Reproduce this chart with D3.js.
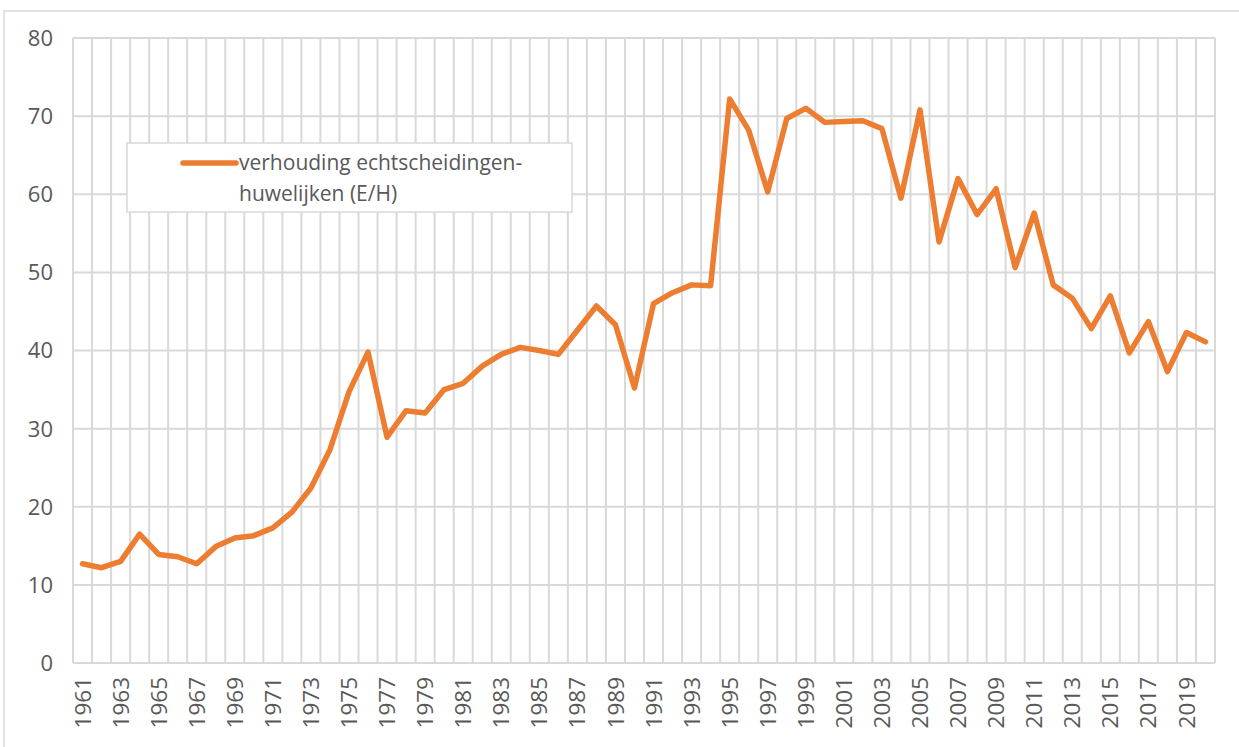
<!DOCTYPE html>
<html>
<head>
<meta charset="utf-8">
<script src="https://cdn.jsdelivr.net/npm/d3@7"></script>
<style>
  html, body { margin: 0; padding: 0; background: #ffffff; }
  svg { display: block; }
  text { font-family: "Open Sans", sans-serif; fill: #595959; }
</style>
</head>
<body>
<svg id="chart" width="1239" height="747"></svg>
<script>
const years = [1961,1962,1963,1964,1965,1966,1967,1968,1969,1970,
  1971,1972,1973,1974,1975,1976,1977,1978,1979,1980,
  1981,1982,1983,1984,1985,1986,1987,1988,1989,1990,
  1991,1992,1993,1994,1995,1996,1997,1998,1999,2000,
  2001,2002,2003,2004,2005,2006,2007,2008,2009,2010,
  2011,2012,2013,2014,2015,2016,2017,2018,2019,2020];

const ratioEH = [12.7,12.2,13.0,16.5,13.9,13.6,12.7,14.9,16.0,16.3,
  17.3,19.3,22.4,27.3,34.7,39.8,28.9,32.3,32.0,35.0,
  35.8,38.0,39.5,40.4,40.0,39.5,42.6,45.7,43.3,35.2,
  46.0,47.4,48.4,48.3,72.2,68.2,60.3,69.7,71.0,69.2,
  69.3,69.4,68.4,59.5,70.8,53.9,62.0,57.4,60.7,50.6,
  57.6,48.4,46.7,42.8,47.0,39.7,43.7,37.3,42.3,41.1];

const xTickLabels = [1961,1963,1965,1967,1969,1971,1973,1975,1977,1979,
  1981,1983,1985,1987,1989,1991,1993,1995,1997,1999,
  2001,2003,2005,2007,2009,2011,2013,2015,2017,2019];

const yTicks = [0,10,20,30,40,50,60,70,80];

const legendLines = ["verhouding echtscheidingen-", "huwelijken (E/H)"];

const svg = d3.select("#chart");
const plot = { left: 73, right: 1215, top: 38, bottom: 663 };
const gridColor = "#d9d9d9";
const lineColor = "#ED7D31";
const textColor = "#595959";

// outer chart border
svg.append("rect")
  .attr("x", 4).attr("y", 11)
  .attr("width", 1260).attr("height", 760)
  .attr("fill", "none").attr("stroke", gridColor).attr("stroke-width", 1.5);

const x = d3.scaleBand().domain(years).range([plot.left, plot.right]).paddingInner(0).paddingOuter(0);
const y = d3.scaleLinear().domain([0, 80]).range([plot.bottom, plot.top]);
const cx = d => x(d) + x.bandwidth() / 2;

// horizontal gridlines
svg.append("g").selectAll("line").data(yTicks).join("line")
  .attr("x1", plot.left).attr("x2", plot.right)
  .attr("y1", d => y(d)).attr("y2", d => y(d))
  .attr("stroke", gridColor).attr("stroke-width", 2);

// vertical gridlines at category boundaries
const bounds = years.map(d => x(d)).concat([x(years[years.length - 1]) + x.bandwidth()]);
svg.append("g").selectAll("line").data(bounds).join("line")
  .attr("x1", d => d).attr("x2", d => d)
  .attr("y1", plot.top).attr("y2", plot.bottom)
  .attr("stroke", gridColor).attr("stroke-width", 2);

// y axis labels
const yAxis = d3.axisLeft(y).tickValues(yTicks).tickSize(0).tickPadding(20);
const gy = svg.append("g").attr("transform", `translate(${plot.left},0)`).call(yAxis);
gy.select(".domain").remove();
gy.selectAll("text")
  .attr("font-size", 22)
  .attr("font-family", "'Open Sans', sans-serif")
  .attr("fill", textColor)
  .attr("dy", "0.34em");

// x axis labels (rotated)
const xAxis = d3.axisBottom(x).tickValues(xTickLabels).tickSize(0).tickPadding(0);
const gx = svg.append("g").attr("transform", `translate(0,${plot.bottom})`).call(xAxis);
gx.select(".domain").remove();
gx.selectAll("text")
  .attr("font-size", 22.5)
  .attr("font-family", "'Open Sans', sans-serif")
  .attr("fill", textColor)
  .attr("text-anchor", "end")
  .attr("transform", "rotate(-90)")
  .attr("x", -14)
  .attr("y", 0)
  .attr("dy", "0.36em");

// data line
const line = d3.line().x((d, i) => cx(years[i])).y(d => y(d));
svg.append("path")
  .datum(ratioEH)
  .attr("d", line)
  .attr("fill", "none")
  .attr("stroke", lineColor)
  .attr("stroke-width", 5.5)
  .attr("stroke-linejoin", "round")
  .attr("stroke-linecap", "round");

// legend
const lg = svg.append("g");
lg.append("rect")
  .attr("x", 127).attr("y", 143).attr("width", 445).attr("height", 69)
  .attr("fill", "#ffffff").attr("stroke", gridColor).attr("stroke-width", 1.5);
lg.append("line")
  .attr("x1", 183).attr("x2", 236).attr("y1", 163).attr("y2", 163)
  .attr("stroke", lineColor).attr("stroke-width", 5.5).attr("stroke-linecap", "round");
lg.selectAll("text.leg").data(legendLines).join("text")
  .attr("class", "leg")
  .attr("x", 239)
  .attr("y", (d, i) => 170 + i * 31)
  .attr("font-size", 21)
  .attr("fill", textColor)
  .text(d => d);
</script>
</body>
</html>
